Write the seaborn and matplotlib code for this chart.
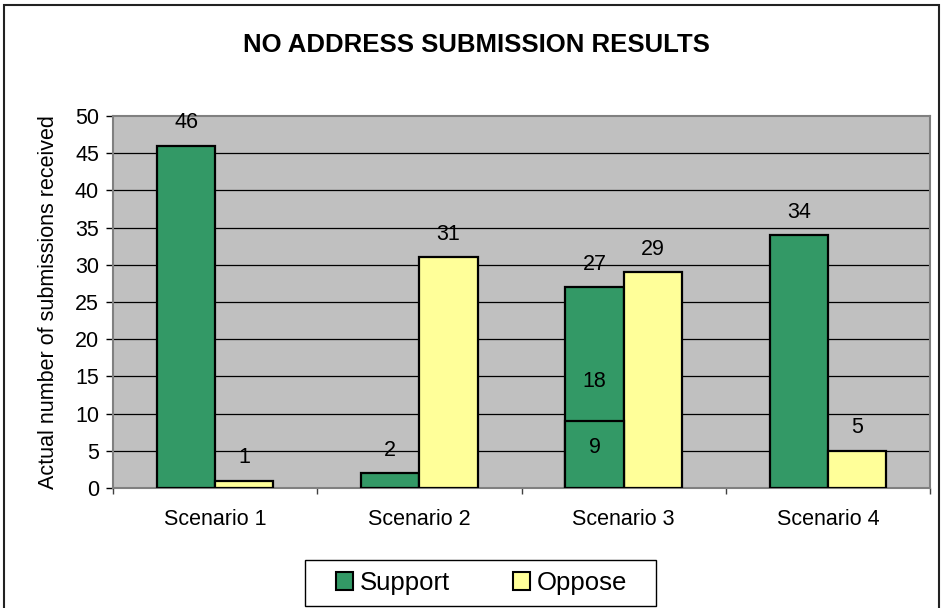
import numpy as np
import pandas as pd
import matplotlib
matplotlib.use("Agg")
import matplotlib.pyplot as plt
from matplotlib.patches import Patch, Rectangle
import seaborn as sns

# data
scenarios = ["Scenario 1", "Scenario 2", "Scenario 3", "Scenario 4"]
support = [46, 2, 27, 34]
oppose = [1, 31, 29, 5]
# scenario 3 support is split in two parts
s3_lower = 9
s3_upper = 18

green = "#339966"
yellow = "#FFFF99"
grey_bg = "#C0C0C0"
axis_grey = "#808080"

sns.set_style("white")
plt.rcParams["font.family"] = ["Liberation Sans", "DejaVu Sans"]
plt.rcParams["text.color"] = "black"
plt.rcParams["axes.labelcolor"] = "black"
plt.rcParams["xtick.labelcolor"] = "black"
plt.rcParams["ytick.labelcolor"] = "black"

df = pd.DataFrame({
    "scenario": scenarios * 2,
    "count": support + oppose,
    "position": ["Support"] * 4 + ["Oppose"] * 4,
})

fig = plt.figure(figsize=(9.43, 6.08), dpi=100)
ax = fig.add_axes([113 / 943, 1 - 488 / 608, 817 / 943, 372 / 608])
ax.set_facecolor(grey_bg)

sns.barplot(
    data=df, x="scenario", y="count", hue="position",
    hue_order=["Support", "Oppose"], order=scenarios,
    palette={"Support": green, "Oppose": yellow},
    width=0.57, edgecolor="black", linewidth=1.6, saturation=1,
    legend=False, ax=ax, zorder=3,
)

# split bar for scenario 3 support
b3 = ax.containers[0][2]
ax.bar(b3.get_x(), s3_lower, width=b3.get_width(), align="edge",
       color=green, edgecolor="black", linewidth=1.6, zorder=4)

# value labels above bars
for cont in ax.containers[:2]:
    for rect in cont:
        h = rect.get_height()
        ax.annotate(f"{h:.0f}", (rect.get_x() + rect.get_width() / 2, h),
                    xytext=(0, 16.5), textcoords="offset points",
                    ha="center", va="center", fontsize=15.5, zorder=5)

# labels inside the split bar
cx = b3.get_x() + b3.get_width() / 2
ax.text(cx, 14.25, str(s3_upper), ha="center", va="center", fontsize=15.5, zorder=5)
ax.text(cx, 5.4, str(s3_lower), ha="center", va="center", fontsize=15.5, zorder=5)

ax.set_ylim(0, 50)
ax.set_xlim(-0.5, 3.5)
ax.set_yticks(np.arange(0, 51, 5))
for y in range(5, 50, 5):
    ax.axhline(y, color="black", linewidth=0.9, zorder=1)

for s in ax.spines.values():
    s.set_visible(True)
    s.set_color(axis_grey)
    s.set_linewidth(1.5)

ax.tick_params(axis="y", direction="out", length=5, width=1, color="black",
               labelsize=15.5, pad=5, left=True)
ax.set_xticks(np.arange(-0.5, 4, 1), minor=True)
ax.tick_params(axis="x", which="minor", direction="out", length=4.5, width=1,
               color="#404040", bottom=True)
ax.tick_params(axis="x", which="major", length=0, labelsize=15.5, pad=15)

ax.set_xlabel("")
ax.set_ylabel("Actual number of submissions received", fontsize=15.5)
ax.yaxis.set_label_coords(-0.066, 0.5)

fig.text(476 / 943, 1 - 45 / 608, "NO ADDRESS SUBMISSION RESULTS",
         ha="center", va="center", fontsize=18.5, fontweight="bold")

# legend, with its box drawn separately
handles = [Patch(facecolor=green, edgecolor="black", linewidth=1.5, label="Support"),
           Patch(facecolor=yellow, edgecolor="black", linewidth=1.5, label="Oppose")]
fig.legend(handles=handles, loc="center", ncol=2,
           bbox_to_anchor=(481.5 / 943, 1 - 583 / 608), fontsize=18.5,
           frameon=False, handlelength=0.66, handleheight=0.66,
           handletextpad=0.27, columnspacing=2.45, borderpad=0, borderaxespad=0)
fig.add_artist(Rectangle((305 / 943, 1 - 606 / 608), 351 / 943, 46 / 608,
                         transform=fig.transFigure, fill=False,
                         edgecolor="black", linewidth=1.0))

# outer chart border
fig.add_artist(Rectangle((4 / 943, -0.01), 935 / 943, 1 - 5 / 608 + 0.01,
                         transform=fig.transFigure, fill=False,
                         edgecolor="#222222", linewidth=1.5))

fig.savefig("out.png", dpi=100)
